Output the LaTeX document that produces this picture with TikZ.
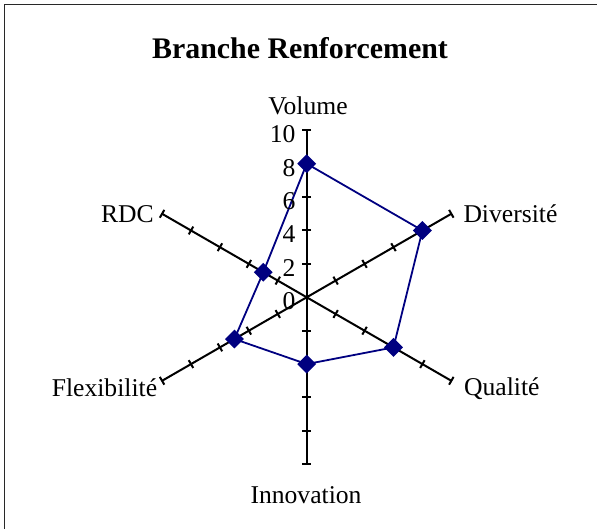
\documentclass[tikz,border=0pt]{standalone}
\usepackage{fontspec}
\setmainfont{Liberation Serif}
\usetikzlibrary{shapes.geometric}
\definecolor{seriesblue}{RGB}{0,0,128}
\definecolor{framegray}{RGB}{40,40,40}
\begin{document}
\begin{tikzpicture}[x=1bp,y=1bp,
  axisline/.style={line width=2bp, black},
  tickmark/.style={line width=2bp, black},
  seriesline/.style={line width=1.8bp, seriesblue, line join=round},
  marker/.style={diamond, fill=seriesblue, draw=none, inner sep=0pt, minimum size=19bp},
  catlabel/.style={font=\fontsize{25.7}{30}\selectfont, inner sep=0pt},
  numlabel/.style={font=\fontsize{25.7}{30}\selectfont, inner sep=0pt, anchor=east},
  titlelabel/.style={font=\fontsize{30}{35}\selectfont\bfseries, inner sep=0pt, anchor=base},
  frameline/.style={line width=1.8bp, framegray}]
\useasboundingbox (0,0) rectangle (597,529);
% chart frame (left and top edges)
\draw[frameline] (4.5,0) -- (4.5,524.5) -- (597,524.5);
\begin{scope}[shift={(306.7,231.7)}]
  \coordinate (O) at (0,0);
  % six radial axes, 16.7 units per value step
  \foreach \nm/\ang in {vol/90, div/30, qua/-30, inn/-90, fle/-150, rdc/150} {
    \coordinate (\nm) at (\ang:167);
    \draw[axisline] (O) -- (\nm);
    \foreach \k in {2,4,6,8,10}
      \draw[tickmark, shift={(\ang:\k*16.7)}, rotate=\ang] (0,-4.5) -- (0,4.5);
  }
  % data values: 8, 8, 6, 4, 5, 3
  \coordinate (q1) at (90:8*16.7);
  \coordinate (q2) at (30:8*16.7);
  \coordinate (q3) at (-30:6*16.7);
  \coordinate (q4) at (-90:4*16.7);
  \coordinate (q5) at (-150:5*16.7);
  \coordinate (q6) at (150:3*16.7);
  \draw[seriesline] (q1) -- (q2) -- (q3) -- (q4) -- (q5) -- (q6) -- cycle;
  \foreach \i in {1,...,6} \node[marker] (p\i) at (q\i) {};
  % value scale on the first axis
  \foreach \k in {0,2,4,6,8,10}
    \node[numlabel] (n\k) at (-11,\k*16.7-4) {\k};
  % category labels
  \node[catlabel, anchor=base] (lvol) at (1.3,182.8) {Volume};
  \node[catlabel, anchor=base west] (ldiv) at (156.6,74.3) {Diversité};
  \node[catlabel, anchor=base west] (lqua) at (157.3,-98.7) {Qualité};
  \node[catlabel, anchor=base] (linn) at (-0.7,-206.2) {Innovation};
  \node[catlabel, anchor=base east] (lfle) at (-149.4,-99.4) {Flexibilité};
  \node[catlabel, anchor=base east] (lrdc) at (-152.7,75) {RDC};
  % chart title
  \node[titlelabel] (title) at (-6.7,238.3) {Branche Renforcement};
\end{scope}
\end{tikzpicture}
\end{document}
